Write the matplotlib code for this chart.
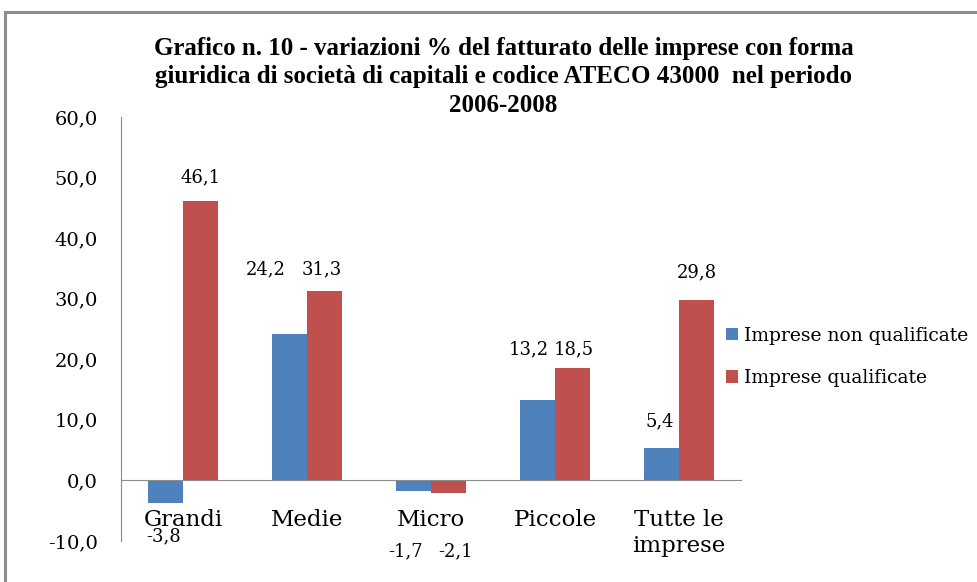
import matplotlib.pyplot as plt
import numpy as np
from matplotlib.patches import Rectangle

categories = ["Grandi", "Medie", "Micro", "Piccole", "Tutte le\nimprese"]
non_qualificate = [-3.8, 24.2, -1.7, 13.2, 5.4]
qualificate = [46.1, 31.3, -2.1, 18.5, 29.8]
series_names = ["Imprese non qualificate", "Imprese qualificate"]
yticks = [-10, 0, 10, 20, 30, 40, 50, 60]

BLUE = "#4F81BD"
RED = "#C0504D"
FONT = "DejaVu Serif"
TITLE_FONT = "Liberation Serif"

fig = plt.figure(figsize=(9.78, 5.82), dpi=100)
ax = fig.add_axes([121 / 978, 1 - 541 / 582, 620 / 978, 424 / 582])

# chart border (cut off on the right/bottom like the screenshot)
fig.patches.append(Rectangle((5 / 978, -0.05), 2.0, 1 - 12 / 582 + 0.05,
                             transform=fig.transFigure, fill=False,
                             edgecolor="#8c8c8c", linewidth=2.2))

x = np.arange(len(categories))
w = 0.285
b1 = ax.bar(x - w / 2, non_qualificate, w, color=BLUE, label=series_names[0])
b2 = ax.bar(x + w / 2, qualificate, w, color=RED, label=series_names[1])

ax.set_xlim(-0.5, len(categories) - 0.5)
ax.set_ylim(-10, 60)
ax.set_yticks(yticks)
ax.set_yticklabels([f"{v:.1f}".replace(".", ",") for v in yticks],
                   fontsize=14, family=FONT)
ax.tick_params(axis="y", length=0, pad=16.5)
ax.set_xticks([])

for s in ["top", "right"]:
    ax.spines[s].set_visible(False)
ax.spines["left"].set_color("#8c8c8c")
ax.spines["bottom"].set_color("#8c8c8c")
ax.spines["bottom"].set_position(("data", 0))

for xi, lab in zip(x, categories):
    ax.annotate(lab, (xi, 0), xytext=(0, -29), textcoords="offset pixels",
                ha="center", va="top", fontsize=16.5, family=FONT,
                linespacing=1.2)

# data labels (offsets in pixels, mimicking Excel placement)
nq_off = [(-2, -33), (-24, 64), (-8, -61), (-9, 51), (-2, 26)]
q_off = [(0, 24), (-3, 21), (7, -58), (1, 19), (0, 28)]
for bars, vals, offs in [(b1, non_qualificate, nq_off), (b2, qualificate, q_off)]:
    for bar, v, (dx, dy) in zip(bars, vals, offs):
        ax.annotate(f"{v:.1f}".replace(".", ","),
                    (bar.get_x() + bar.get_width() / 2, v),
                    xytext=(dx, dy), textcoords="offset pixels",
                    ha="center", va="center", fontsize=13, family=FONT)

ax.legend(loc="center left", bbox_to_anchor=(0.976, 0.434), frameon=False,
          prop={"family": FONT, "size": 13.5}, handlelength=0.65,
          handleheight=0.65, handletextpad=0.3, labelspacing=1.3,
          borderpad=0, borderaxespad=0)

fig.text(0.515, 1 - 77 / 582,
         "Grafico n. 10 - variazioni % del fatturato delle imprese con forma\n"
         "giuridica di società di capitali e codice ATECO 43000  nel periodo\n"
         "2006-2008",
         ha="center", va="center", fontsize=18, fontweight="bold",
         family=TITLE_FONT, linespacing=1.3)

fig.savefig("out.png", dpi=100)
